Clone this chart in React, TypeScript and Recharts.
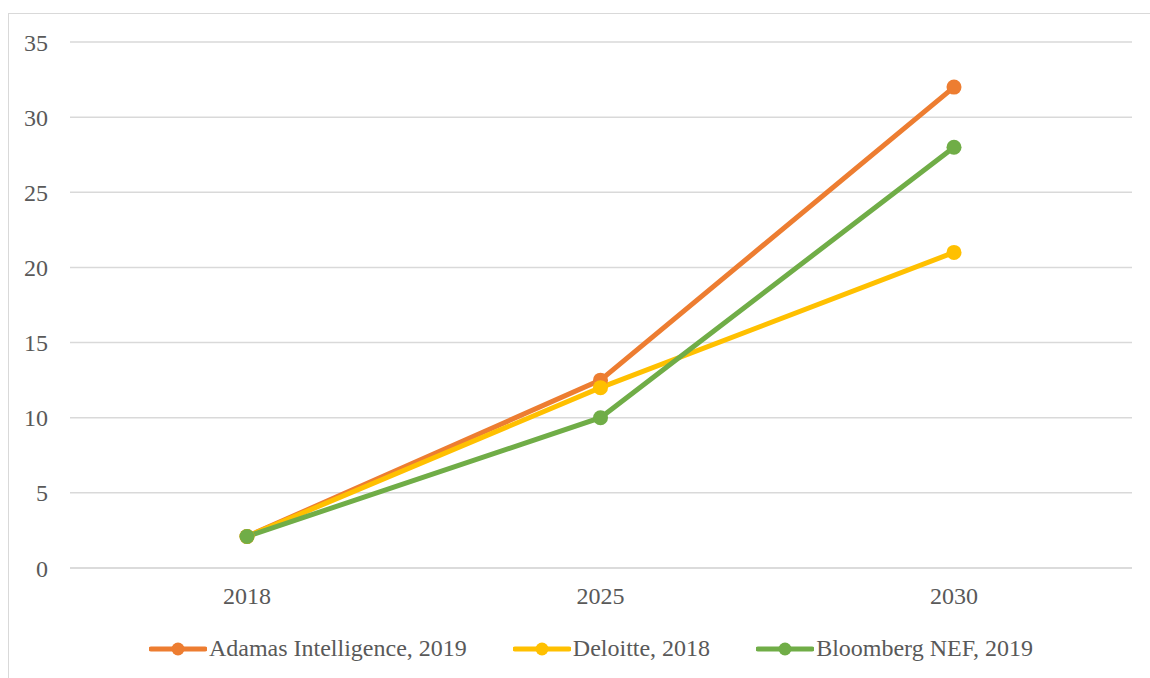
import { LineChart, Line, XAxis, YAxis, CartesianGrid, Legend } from 'recharts';

const years = ['2018', '2025', '2030'];
const adamas = [2.1, 12.5, 32];
const deloitte = [2.1, 12, 21];
const bloomberg = [2.1, 10, 28];
const yTicks = [0, 5, 10, 15, 20, 25, 30, 35];

const series = [
  { key: 'adamas', name: 'Adamas Intelligence, 2019', color: '#ED7D31' },
  { key: 'deloitte', name: 'Deloitte, 2018', color: '#FFC000' },
  { key: 'bloomberg', name: 'Bloomberg NEF, 2019', color: '#70AD47' },
];

const data = years.map((year, i) => ({
  year,
  adamas: adamas[i],
  deloitte: deloitte[i],
  bloomberg: bloomberg[i],
}));

const font = "'Times New Roman', 'Liberation Serif', Tinos, 'DejaVu Serif', serif";
const textColor = '#595959';

// legend drawn in the Excel style: line with a dot through it
const LegendContent = () => (
  <div style={{ display: 'flex', justifyContent: 'center', alignItems: 'center', gap: 46, fontFamily: font, fontSize: 24, color: textColor }}>
    {series.map(s => (
      <div key={s.key} style={{ display: 'flex', alignItems: 'center' }}>
        <svg width={58} height={16} style={{ marginRight: 2 }}>
          <line x1={2} y1={8} x2={56} y2={8} stroke={s.color} strokeWidth={5} strokeLinecap="round" />
          <circle cx={29} cy={8} r={6.5} fill={s.color} />
        </svg>
        <span>{s.name}</span>
      </div>
    ))}
  </div>
);

export default function App() {
  return (
    <div style={{ position: 'absolute', left: 0, top: 0, width: 1150, height: 678, background: '#fff', overflow: 'hidden', fontFamily: font }}>
      <div style={{ position: 'absolute', left: 8, top: 13, width: 1200, height: 700, borderLeft: '1.5px solid #d9d9d9', borderTop: '1.5px solid #d9d9d9' }} />
      <LineChart
        width={1150}
        height={678}
        data={data}
        margin={{ top: 42, right: 18, left: 0, bottom: 80 }}
        style={{ position: 'absolute', left: 0, top: 0 }}
      >
        <CartesianGrid vertical={false} stroke="#d9d9d9" strokeWidth={1.5} />
        <XAxis
          dataKey="year"
          padding={{ left: 177, right: 178 }}
          axisLine={{ stroke: '#d9d9d9', strokeWidth: 1.5 }}
          tickLine={false}
          tickSize={0}
          tickMargin={19}
          height={30}
          tick={{ fill: textColor, fontSize: 24, fontFamily: font }}
        />
        <YAxis
          domain={[0, 35]}
          ticks={yTicks}
          width={70}
          axisLine={false}
          tickLine={false}
          tickSize={0}
          tickMargin={22}
          tick={{ fill: textColor, fontSize: 24, fontFamily: font }}
        />
        <Legend
          layout="horizontal"
          verticalAlign="middle"
          align="center"
          wrapperStyle={{ top: 635, left: 16, width: 1150 }}
          content={<LegendContent />}
        />
        {series.map(s => (
          <Line
            key={s.key}
            type="linear"
            dataKey={s.key}
            name={s.name}
            stroke={s.color}
            strokeWidth={5}
            dot={{ r: 7.5, fill: s.color, stroke: s.color, strokeWidth: 0 }}
            activeDot={false}
            isAnimationActive={false}
          />
        ))}
      </LineChart>
    </div>
  );
}
